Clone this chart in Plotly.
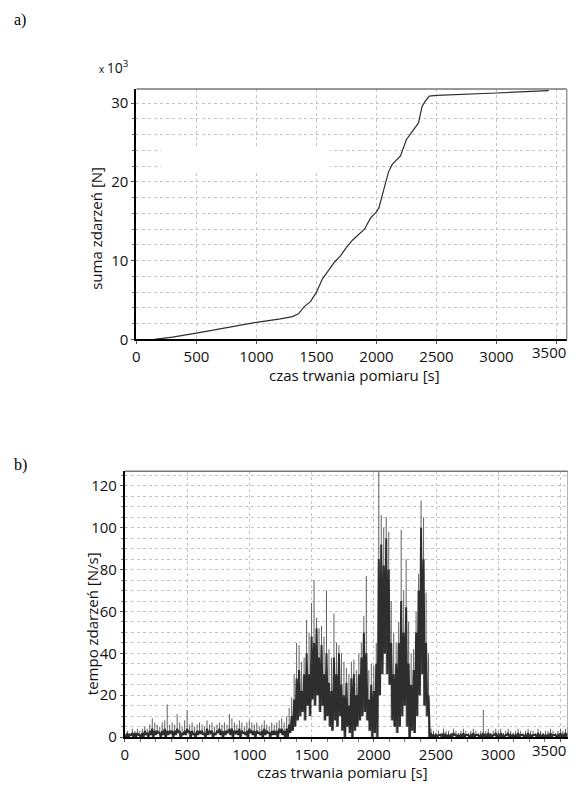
import plotly.graph_objects as go

# page body keeps its default 8 px margin, so the figure is 16 px smaller than the window
PAGE_W, PAGE_H, BODY = 576, 789, 8
W, H = PAGE_W - 2 * BODY, PAGE_H - 2 * BODY

# ---- (a) cumulative number of events (x 10^3) ----
sum_time = [150, 300, 500, 750, 1000, 1200, 1300, 1350, 1400, 1450, 1500, 1550, 1600, 1650,
            1700, 1750, 1800, 1850, 1900, 1950, 2000, 2020, 2050, 2100, 2130, 2200, 2250,
            2300, 2350, 2380, 2400, 2440, 2500, 3000, 3436]
sum_events = [0.0, 0.3, 0.8, 1.5, 2.17, 2.6, 2.9, 3.25, 4.2, 4.8, 6.0, 7.7, 8.75, 9.8,
              10.6, 11.7, 12.6, 13.3, 14.0, 15.4, 16.2, 16.7, 18.3, 21.25, 22.2, 23.3, 25.4,
              26.5, 27.5, 29.6, 30.1, 30.9, 31.0, 31.3, 31.6]

# ---- (b) event rate [N/s], per 20 s bin: peak, dense-band top and bottom seen in each bin ----
bin_start = list(range(0, 3600, 20))
rate_hi = [
    2, 3, 2, 4, 3, 4, 3, 4, 5, 4,
    6, 9, 7, 6, 5, 7, 8, 15.6, 6, 7,
    6, 11, 7, 5, 8, 13, 6, 7, 5, 6,
    7, 6, 5, 8, 6, 7, 5, 6, 7, 6,
    7, 6, 11, 9, 7, 6, 8, 7, 5, 7,
    8, 7, 6, 7, 5, 6, 8, 6, 5, 7,
    6, 7, 8, 9, 7, 10, 14, 19, 30, 45,
    44, 36, 38, 56, 50, 64, 75, 57, 52, 53,
    48, 70, 42, 38, 59, 45, 44, 40, 36, 33,
    30, 36, 37, 32, 40, 45, 58, 77, 32, 35,
    34, 45, 127, 106, 100, 105, 98, 65, 50, 45,
    55, 99, 70, 85, 55, 40, 42, 60, 78, 113,
    105, 69, 40, 4, 3, 2, 3, 2, 4, 3,
    3, 2, 4, 3, 2, 3, 4, 3, 2, 3,
    4, 3, 2, 3, 13, 3, 4, 2, 3, 4,
    3, 4, 2, 3, 4, 3, 2, 3, 4, 3,
    2, 3, 4, 3, 3, 2, 4, 3, 2, 3,
    3, 4, 3, 2, 3, 4, 3, 4, 5, 4,
]
rate_core = [
    1, 2, 1, 2, 2, 2, 1, 2, 3, 2,
    3, 4, 3, 3, 2, 3, 4, 3, 3, 3,
    3, 4, 3, 2, 3, 4, 3, 3, 2, 3,
    3, 3, 2, 4, 3, 3, 2, 3, 4, 3,
    3, 3, 4, 4, 3, 3, 4, 3, 2, 3,
    4, 3, 3, 3, 2, 3, 4, 3, 2, 3,
    3, 3, 4, 4, 3, 4, 6, 10, 18, 28,
    32, 22, 30, 40, 30, 48, 45, 52, 38, 44,
    30, 40, 26, 22, 38, 30, 40, 25, 20, 26,
    15, 28, 30, 20, 30, 38, 50, 40, 18, 25,
    22, 35, 85, 92, 82, 95, 80, 45, 30, 35,
    45, 65, 50, 62, 35, 25, 32, 50, 70, 100,
    85, 45, 20, 2, 1, 1, 1, 1, 2, 1,
    1, 1, 2, 1, 1, 1, 2, 1, 1, 1,
    2, 1, 1, 1, 2, 1, 2, 1, 1, 2,
    1, 2, 1, 1, 2, 1, 1, 1, 2, 1,
    1, 1, 2, 1, 1, 1, 2, 1, 1, 1,
    1, 2, 1, 1, 1, 2, 1, 2, 2, 2,
]
rate_lo = [
    0, 0, 1, 0, 0, 1, 0, 0, 1, 0,
    1, 0, 1, 2, 0, 1, 0, 1, 2, 0,
    1, 2, 0, 1, 1, 2, 0, 1, 0, 1,
    2, 1, 0, 1, 2, 0, 1, 2, 1, 0,
    1, 2, 1, 0, 2, 1, 0, 2, 1, 0,
    2, 1, 0, 2, 1, 0, 1, 2, 0, 1,
    1, 0, 2, 1, 0, 0, 2, 3, 5, 8,
    10, 12, 8, 15, 10, 18, 15, 20, 12, 15,
    8, 10, 5, 3, 8, 5, 10, 3, 0, 5,
    2, 0, 3, 5, 8, 10, 12, 8, 3, 0,
    2, 0, 20, 30, 40, 30, 25, 8, 5, 2,
    5, 10, 15, 5, 0, 3, 2, 10, 20, 30,
    15, 10, 0, 0, 0, 0, 1, 0, 0, 0,
    0, 0, 1, 0, 0, 0, 0, 1, 0, 0,
    0, 1, 0, 0, 0, 0, 0, 0, 1, 0,
    0, 0, 0, 1, 0, 0, 0, 0, 0, 1,
    0, 0, 0, 0, 1, 0, 0, 0, 0, 0,
    0, 0, 1, 0, 0, 0, 0, 0, 1, 0,
]

x_ticks = [0, 500, 1000, 1500, 2000, 2500, 3000, 3500]

# spikes: one vertical stroke per bin from bottom to peak
x_spk, y_spk = [], []
for t, hi, lo in zip(bin_start, rate_hi, rate_lo):
    x_spk += [t, t, None]
    y_spk += [lo, hi, None]
# dense band: zig-zag between band top and bottom inside each bin
x_band, y_band = [], []
for t, core, lo in zip(bin_start, rate_core, rate_lo):
    x_band += [t, t + 10]
    y_band += [core, lo]

FONT = "Open Sans"
GRID = "#c4c4c4"
DARK = "#2e2e2e"

def px_x(p):
    return (p - BODY) / W

def px_y(p):
    return 1 - (p - BODY) / H

fig = go.Figure()
fig.add_trace(go.Scatter(x=sum_time, y=sum_events, mode="lines",
                         line=dict(color=DARK, width=1.2), xaxis="x", yaxis="y",
                         showlegend=False))
fig.add_trace(go.Scatter(x=x_spk, y=y_spk, mode="lines", connectgaps=False,
                         line=dict(color="#606060", width=1), xaxis="x2", yaxis="y2",
                         showlegend=False))
fig.add_trace(go.Scatter(x=x_band, y=y_band, mode="lines",
                         line=dict(color=DARK, width=2),
                         xaxis="x2", yaxis="y2", showlegend=False))

tickfont = dict(family=FONT, size=15, color="#111")
titlefont = dict(family=FONT, size=15, color="#111")

# the last tick label (3500) would run past the page edge; it is written as an annotation
shown_ticks = x_ticks[:-1]
common_x = dict(showgrid=True, gridcolor=GRID, griddash="dot", gridwidth=1,
                zeroline=False, showline=True, linecolor="black", linewidth=2,
                ticks="outside", ticklen=3, tickcolor="#555", tickfont=tickfont,
                tickvals=x_ticks, ticktext=[str(v) for v in shown_ticks] + [""])
common_y = dict(showgrid=True, gridcolor=GRID, griddash="dot", gridwidth=1,
                zeroline=False, showline=True, linecolor="black", linewidth=2,
                ticks="outside", ticklen=3, tickcolor="#555", tickfont=tickfont)

fig.update_layout(
    width=W, height=H, margin=dict(l=0, r=0, t=0, b=0),
    paper_bgcolor="white", plot_bgcolor="white",
    xaxis=dict(common_x, domain=[px_x(133.3), px_x(566.7)], range=[0, 3585],
               anchor="y", minor=dict(showgrid=False)),
    yaxis=dict(common_y, domain=[px_y(343.3), px_y(90)], range=[0, 31.8], dtick=10,
               anchor="x",
               minor=dict(dtick=2, showgrid=True, gridcolor=GRID, griddash="dot",
                          ticks="outside", ticklen=2, tickcolor="#777")),
    xaxis2=dict(common_x, domain=[px_x(121.7), 1.0], range=[0, 3590 * (PAGE_W - BODY - 121.7) / (571.7 - 121.7)],
                anchor="y2",
                minor=dict(dtick=125, showgrid=False, ticks="outside", ticklen=3, tickcolor="#777")),
    yaxis2=dict(common_y, domain=[px_y(745.7), px_y(476.7)], range=[0, 127], dtick=20,
                anchor="x2",
                minor=dict(dtick=5, showgrid=True, gridcolor=GRID, griddash="dot",
                           ticks="outside", ticklen=2, tickcolor="#777")),
)

# grey frame on the top/right sides of both plots
for xr, yr in (("x domain", "y domain"), ("x2 domain", "y2 domain")):
    fig.add_shape(type="line", xref=xr, yref=yr, x0=0, x1=1, y0=1, y1=1,
                  line=dict(color="#777", width=1.5))
    fig.add_shape(type="line", xref=xr, yref=yr, x0=1, x1=1, y0=0, y1=1,
                  line=dict(color="#999", width=1.5))

# white patch that masks part of the grid in panel (a)
fig.add_shape(type="rect", xref="paper", yref="paper",
              x0=px_x(158), x1=px_x(328), y0=px_y(175), y1=px_y(148),
              fillcolor="white", line=dict(width=0), layer="above")

def note(x, y, text, font, angle=0, xanchor="center"):
    fig.add_annotation(x=px_x(x), y=px_y(y), xref="paper", yref="paper", text=text,
                       showarrow=False, xanchor=xanchor, yanchor="middle",
                       textangle=angle, font=font)

serif = dict(family="Liberation Serif", size=16, color="black")
note(8, 20, "a)", serif, xanchor="left")
note(8, 470, "b)", serif, xanchor="left")
note(94, 68, "<span style='font-size:10px'>x </span>10<sup>3</sup>",
     dict(family=FONT, size=14, color="#111"), xanchor="left")

# last x tick labels, kept inside the page
note(PAGE_W - BODY, 356, str(x_ticks[-1]), tickfont, xanchor="right")
note(PAGE_W - BODY, 759, str(x_ticks[-1]), tickfont, xanchor="right")

# axis titles
note(353, 379, "czas trwania pomiaru [s]", titlefont)
note(93, 231, "suma zdarzeń [N]", titlefont, angle=-90)
note(341, 781, "czas trwania pomiaru [s]", titlefont)
note(88, 631, "tempo zdarzeń [N/s]", titlefont, angle=-90)

fig.write_html("out.html", config={"displayModeBar": False})
